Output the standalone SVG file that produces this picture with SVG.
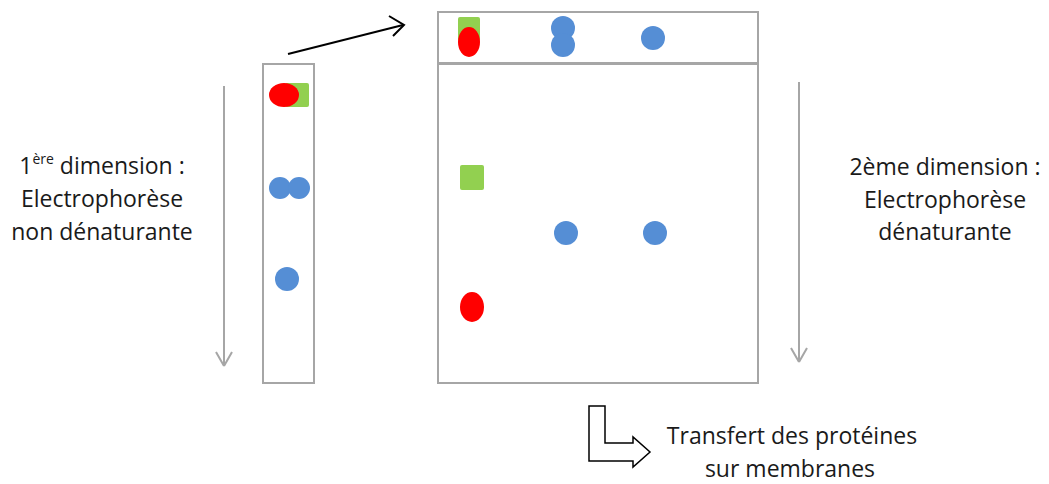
<svg xmlns="http://www.w3.org/2000/svg" width="1049" height="484" viewBox="0 0 1049 484">
<style>
.box{fill:#fff;stroke:#A6A6A6;stroke-width:2}
.grey{stroke:#A6A6A6;stroke-width:2;fill:none}
.blue{fill:#558ED5}
.green{fill:#92D050}
.red{fill:#FF0000}
.t{font-family:"Open Sans","Liberation Sans",sans-serif;font-size:23px;fill:#1a1a1a;text-anchor:middle}
</style>
<g id="connectors">
<line class="grey" x1="224" y1="86" x2="224" y2="366"/>
<line class="grey" x1="799" y1="82" x2="799" y2="362"/>
<line x1="288" y1="54" x2="403" y2="25" stroke="#000" stroke-width="2"/>
<path d="M389,16 L404,25 L393,36" fill="none" stroke="#000" stroke-width="2"/>
<path d="M224,366 L216,352 M224,366 L232,352" class="grey"/>
<path d="M799,362 L791,348 M799,362 L807,348" class="grey"/>
</g>
<g id="strip1">
<rect class="box" x="263" y="64" width="51" height="319"/>
<rect class="green" x="285" y="83" width="24" height="24" rx="2"/>
<ellipse class="red" cx="284" cy="95" rx="15" ry="12"/>
<circle class="blue" cx="280" cy="188" r="11"/>
<circle class="blue" cx="299" cy="188" r="11"/>
<circle class="blue" cx="287" cy="279" r="12"/>
</g>
<g id="gel2top">
<rect class="box" x="438" y="12" width="320" height="51"/>
<rect class="green" x="458" y="17" width="22" height="24" rx="2"/>
<ellipse class="red" cx="469" cy="42" rx="11" ry="15"/>
<circle class="blue" cx="563" cy="28" r="12"/>
<circle class="blue" cx="563" cy="45" r="12"/>
<circle class="blue" cx="653" cy="38" r="12"/>
</g>
<g id="gel2">
<rect class="box" x="438" y="64" width="320" height="319"/>
<rect class="green" x="460" y="165" width="24" height="25" rx="2"/>
<circle class="blue" cx="566" cy="233" r="12"/>
<circle class="blue" cx="655" cy="233" r="12"/>
<ellipse class="red" cx="472" cy="307" rx="12" ry="15"/>
</g>
<g id="label1">
<text class="t" x="102" y="174">1<tspan font-size="14" dy="-10">ère</tspan><tspan dy="10"> dimension :</tspan></text>
<text class="t" x="102" y="207">Electrophorèse</text>
<text class="t" x="102" y="240">non dénaturante</text>
</g>
<g id="label2">
<text class="t" x="945" y="175">2ème dimension :</text>
<text class="t" x="945" y="208">Electrophorèse</text>
<text class="t" x="945" y="240">dénaturante</text>
</g>
<g id="transfer">
<path d="M589,406 L605,406 L605,443 L633,443 L633,437 L650,452 L633,467 L633,461 L589,461 Z" fill="#fff" stroke="#000" stroke-width="1.5"/>
<text class="t" x="792" y="444">Transfert des protéines</text>
<text class="t" x="790" y="477">sur membranes</text>
</g>
</svg>
